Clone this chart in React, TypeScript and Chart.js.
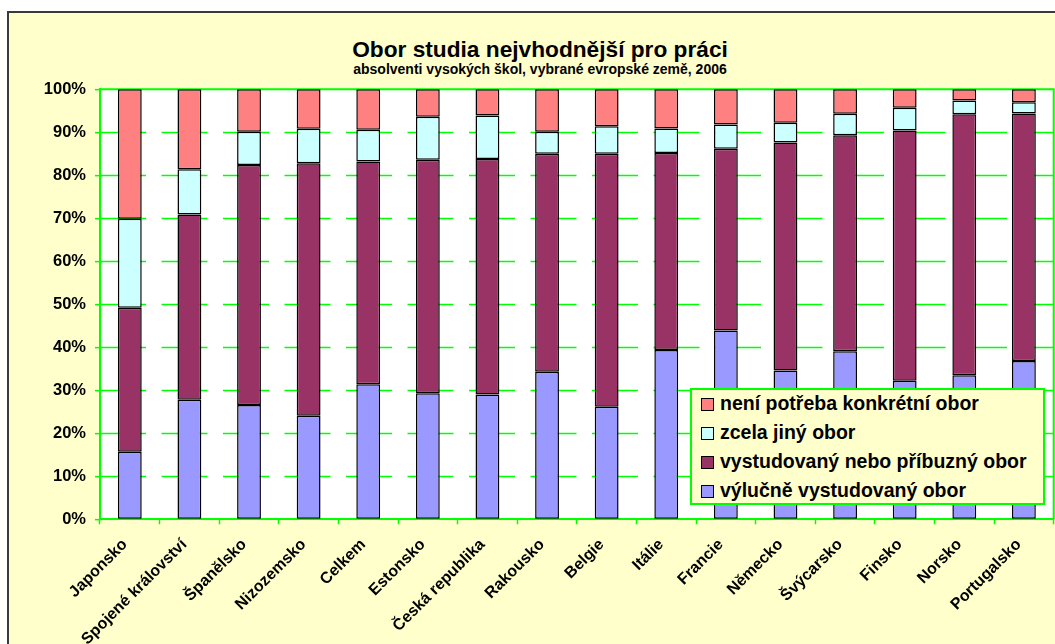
import React, { useEffect, useRef } from "react";
import { Chart, registerables } from "chart.js";

Chart.register(...registerables);

const categories = [
  "Japonsko",
  "Spojené království",
  "Španělsko",
  "Nizozemsko",
  "Celkem",
  "Estonsko",
  "Česká republika",
  "Rakousko",
  "Belgie",
  "Itálie",
  "Francie",
  "Německo",
  "Švýcarsko",
  "Finsko",
  "Norsko",
  "Portugalsko",
];

const vylucne = [15.7, 27.8, 26.6, 24.1, 31.4, 29.3, 29.0, 34.3, 26.2, 39.4, 43.9, 34.6, 39.1, 32.2, 33.5, 36.8];
const pribuzny = [33.5, 43.1, 55.8, 58.7, 51.8, 54.3, 54.8, 50.7, 58.8, 45.8, 42.3, 53.0, 50.2, 58.2, 60.7, 57.6];
const jiny = [20.7, 10.5, 7.7, 8.0, 7.4, 10.0, 10.1, 5.1, 6.4, 5.7, 5.6, 4.6, 5.0, 5.3, 3.2, 2.6];
const neni = [30.1, 18.6, 9.9, 9.2, 9.4, 6.4, 6.1, 9.9, 8.6, 9.1, 8.2, 7.8, 5.7, 4.3, 2.6, 3.0];

const seriesLabels = [
  "výlučně vystudovaný obor",
  "vystudovaný nebo příbuzný obor",
  "zcela jiný obor",
  "není potřeba konkrétní obor",
];
const seriesColors = ["#9999FF", "#993366", "#CCFFFF", "#FF8080"];
const seriesValues = [vylucne, pribuzny, jiny, neni];

const titleText = "Obor studia nejvhodnější pro práci";
const subtitleText = "absolventi vysokých škol, vybrané evropské země, 2006";

const FONT = "'Liberation Sans', Arial, sans-serif";
const GREEN = "#00FF00";

const plotDecor = {
  id: "plotDecor",
  beforeDraw(chart: any) {
    const { ctx, chartArea: a } = chart;
    ctx.save();
    ctx.fillStyle = "#FFFFFF";
    ctx.fillRect(a.left, a.top, a.right - a.left, a.bottom - a.top);
    ctx.restore();
  },
  beforeDatasetsDraw(chart: any) {
    const { ctx, chartArea: a } = chart;
    const y = chart.scales.y;
    ctx.save();
    // dashed horizontal gridlines
    ctx.strokeStyle = GREEN;
    ctx.lineWidth = 1.3;
    ctx.setLineDash([46, 15.5]);
    y.ticks.forEach((t: any) => {
      if (t.value <= 0 || t.value >= 100) return;
      const py = Math.round(y.getPixelForValue(t.value)) + 0.5;
      ctx.beginPath();
      ctx.moveTo(a.left, py);
      ctx.lineTo(a.right, py);
      ctx.stroke();
    });
    ctx.setLineDash([]);
    // plot frame top and right
    ctx.lineWidth = 2;
    ctx.beginPath();
    ctx.moveTo(a.left, a.top);
    ctx.lineTo(a.right, a.top);
    ctx.lineTo(a.right, a.bottom);
    ctx.stroke();
    ctx.restore();
  },
};

export default function App() {
  const canvasRef = useRef<HTMLCanvasElement | null>(null);

  useEffect(() => {
    if (!canvasRef.current) return;
    const chart = new Chart(canvasRef.current, {
      type: "bar",
      data: {
        labels: categories,
        datasets: seriesLabels.map((label, i) => ({
          label,
          data: seriesValues[i],
          backgroundColor: seriesColors[i],
          borderColor: "#000000",
          borderWidth: 1.5,
          borderSkipped: false,
          categoryPercentage: 1,
          barPercentage: 0.4,
        })),
      },
      options: {
        responsive: false,
        animation: false,
        layout: { padding: { left: 0, right: 1.3, top: 89.3, bottom: 0 } },
        plugins: {
          legend: { display: false },
          tooltip: { enabled: false },
          title: { display: false },
        },
        scales: {
          x: {
            stacked: true,
            afterFit(scale: any) {
              scale.height = 124.7;
            },
            grid: {
              display: true,
              drawOnChartArea: false,
              drawTicks: true,
              tickLength: 5,
              tickColor: GREEN,
              tickWidth: 1.5,
              color: GREEN,
              offset: true,
            },
            border: { display: true, color: GREEN, width: 2 },
            ticks: {
              autoSkip: false,
              maxRotation: 45,
              minRotation: 45,
              padding: 11,
              labelOffset: -5,
              color: "#000000",
              font: { family: FONT, size: 16, weight: "bold" },
            },
          },
          y: {
            stacked: true,
            min: 0,
            max: 100,
            afterFit(scale: any) {
              scale.width = 100;
            },
            grid: {
              color: GREEN,
              lineWidth: 1.3,
              drawOnChartArea: false,
              drawTicks: true,
              tickLength: 5,
              tickColor: GREEN,
              tickWidth: 1.5,
            },
            border: { display: true, color: GREEN, width: 2 },
            ticks: {
              stepSize: 10,
              padding: 9,
              color: "#000000",
              font: { family: FONT, size: 16.5, weight: "bold" },
              callback: (v: any) => v + "%",
            },
          },
        },
      },
      plugins: [plotDecor],
    } as any);
    return () => chart.destroy();
  }, []);

  const legendItems = seriesLabels
    .map((label, i) => ({ label, color: seriesColors[i] }))
    .reverse();

  return (
    <div
      style={{
        position: "fixed",
        left: 0,
        top: 0,
        width: 1055,
        height: 644,
        overflow: "hidden",
        background: "#FFFFFF",
      }}
    >
      <div
        style={{
          position: "absolute",
          left: 7,
          top: 11,
          width: 1100,
          height: 700,
          boxSizing: "border-box",
          border: "2px solid #3a3a3a",
          background: "#FFFFCC",
        }}
      />
      <div
        style={{
          position: "absolute",
          left: 240,
          width: 600,
          top: 36.4,
          textAlign: "center",
          fontFamily: FONT,
          fontWeight: "bold",
          fontSize: 22.7,
          lineHeight: "26px",
          color: "#000",
          whiteSpace: "nowrap",
        }}
      >
        {titleText}
      </div>
      <div
        style={{
          position: "absolute",
          left: 240,
          width: 600,
          top: 61.2,
          textAlign: "center",
          fontFamily: FONT,
          fontWeight: "bold",
          fontSize: 14,
          lineHeight: "16px",
          color: "#000",
          whiteSpace: "nowrap",
        }}
      >
        {subtitleText}
      </div>
      <canvas
        ref={canvasRef}
        width={1055}
        height={644}
        style={{ position: "absolute", left: 0, top: 0, width: 1055, height: 644 }}
      />
      <div
        style={{
          position: "absolute",
          left: 690,
          top: 388,
          width: 355,
          height: 117,
          boxSizing: "border-box",
          border: "2px solid " + GREEN,
          background: "#FFFFCC",
          fontFamily: FONT,
          fontWeight: "bold",
          fontSize: 19.5,
          color: "#000000",
        }}
      >
        {legendItems.map((it) => (
          <div
            key={it.label}
            style={{ position: "relative", height: 29, lineHeight: "29px", whiteSpace: "nowrap" }}
          >
            <span
              style={{
                position: "absolute",
                left: 9,
                top: 8,
                width: 13,
                height: 13,
                boxSizing: "border-box",
                border: "1px solid #000",
                background: it.color,
              }}
            />
            <span style={{ position: "absolute", left: 28, top: -1 }}>{it.label}</span>
          </div>
        ))}
      </div>
    </div>
  );
}
